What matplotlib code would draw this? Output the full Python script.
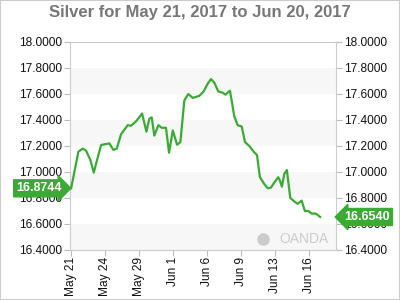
import matplotlib
matplotlib.use("Agg")
import matplotlib.pyplot as plt
from matplotlib.patches import Rectangle

# sessions since May 21 (trading-day axis) and silver price
sessions = [0.00, 0.64, 1.03, 1.32, 1.70, 2.00, 2.29, 2.65, 3.38, 3.73,
            4.03, 4.41, 5.00, 5.30, 5.74, 6.27, 6.65, 6.91, 7.12, 7.35,
            7.71, 8.01, 8.38, 8.65, 8.98, 9.36, 9.65, 10.00, 10.35, 10.74,
            11.32, 11.71, 12.07, 12.36, 12.65, 13.00, 13.39, 13.62, 14.03, 14.18,
            14.41, 14.71, 15.07, 15.36, 15.74, 16.13, 16.42, 16.68, 17.06, 17.36,
            17.65, 17.94, 18.30, 18.45, 18.62, 18.83, 19.06, 19.36, 19.77, 20.01,
            20.36, 20.65, 20.94, 21.27, 21.62, 22.00]
prices = [16.8744, 17.156, 17.18, 17.164, 17.092, 16.995, 17.092, 17.208, 17.22, 17.17,
          17.18, 17.29, 17.36, 17.356, 17.39, 17.45, 17.31, 17.41, 17.42, 17.28,
          17.36, 17.34, 17.34, 17.148, 17.32, 17.21, 17.23, 17.55, 17.60, 17.57,
          17.585, 17.62, 17.68, 17.715, 17.687, 17.62, 17.61, 17.595, 17.625, 17.55,
          17.43, 17.36, 17.35, 17.23, 17.20, 17.156, 17.13, 16.96, 16.908, 16.875,
          16.88, 16.918, 16.96, 16.933, 16.887, 16.985, 17.015, 16.80, 16.77, 16.755,
          16.78, 16.70, 16.70, 16.68, 16.68, 16.654]

tick_pos = [0, 3, 6, 9, 12, 15, 18, 21]
tick_labels = ["May 21", "May 24", "May 29", "Jun 1", "Jun 6", "Jun 9", "Jun 13", "Jun 16"]
y_ticks = [16.4, 16.6, 16.8, 17.0, 17.2, 17.4, 17.6, 17.8, 18.0]
bands = [(16.4, 16.6), (16.8, 17.0), (17.2, 17.4), (17.6, 17.8)]

green = "#3aaa35"
plt.rcParams["font.family"] = ["Liberation Sans", "DejaVu Sans"]

fig = plt.figure(figsize=(4, 3), dpi=100)
fig.patches.append(Rectangle((0, 0), 1, 1, transform=fig.transFigure,
                             fill=False, edgecolor="#cccccc", lw=1.5))
fig.text(0.5, 1 - 13 / 300, "Silver for May 21, 2017 to Jun 20, 2017",
         ha="center", va="center", fontsize=12, fontweight="bold", color="#777777")

ax = fig.add_axes([70 / 400, 50 / 300, 266 / 400, 208 / 300])
for lo, hi in bands:
    ax.axhspan(lo, hi, color="#f7f7f7", lw=0, zorder=0)

ax.plot(sessions, prices, color=green, lw=1.6, zorder=3)

ax.set_xlim(-0.1, 23.4)
ax.set_ylim(16.4, 18.0)
ax.set_yticks(y_ticks)
ax.set_yticklabels([f"{v:.4f}" for v in y_ticks])
ax.set_xticks(tick_pos)
ax.set_xticklabels(tick_labels, rotation=90)
ax.tick_params(axis="y", which="both", left=True, right=True, labelleft=True,
               labelright=True, length=4, width=0.8, color="#bbbbbb",
               labelsize=8.6, labelcolor="#111111", pad=2)
ax.tick_params(axis="x", length=4, width=0.8, color="#bbbbbb",
               labelsize=8.6, labelcolor="#111111", pad=1)
for s in ax.spines.values():
    s.set_color("#cccccc")
    s.set_linewidth(0.8)

# watermark
ax.text(0.88, 0.055, "OANDA", transform=ax.transAxes, ha="center", va="center",
        fontsize=10, color="#cccccc", zorder=1)
ax.plot([0.725], [0.055], transform=ax.transAxes, marker="o", ms=8,
        color="#cccccc", zorder=1)

# price badges
ax.annotate(f"{prices[0]:.4f}", xy=(0, prices[0]), xycoords=("axes fraction", "data"),
            xytext=(-6, 0), textcoords="offset points", ha="right", va="center",
            fontsize=9, fontweight="bold", color="white",
            bbox=dict(boxstyle="rarrow,pad=0.2", fc=green, ec=green))
ax.annotate(f"{prices[-1]:.4f}", xy=(1, prices[-1]), xycoords=("axes fraction", "data"),
            xytext=(6, 0), textcoords="offset points", ha="left", va="center",
            fontsize=9, fontweight="bold", color="white",
            bbox=dict(boxstyle="larrow,pad=0.2", fc=green, ec=green))

fig.savefig("out.png", dpi=100)
